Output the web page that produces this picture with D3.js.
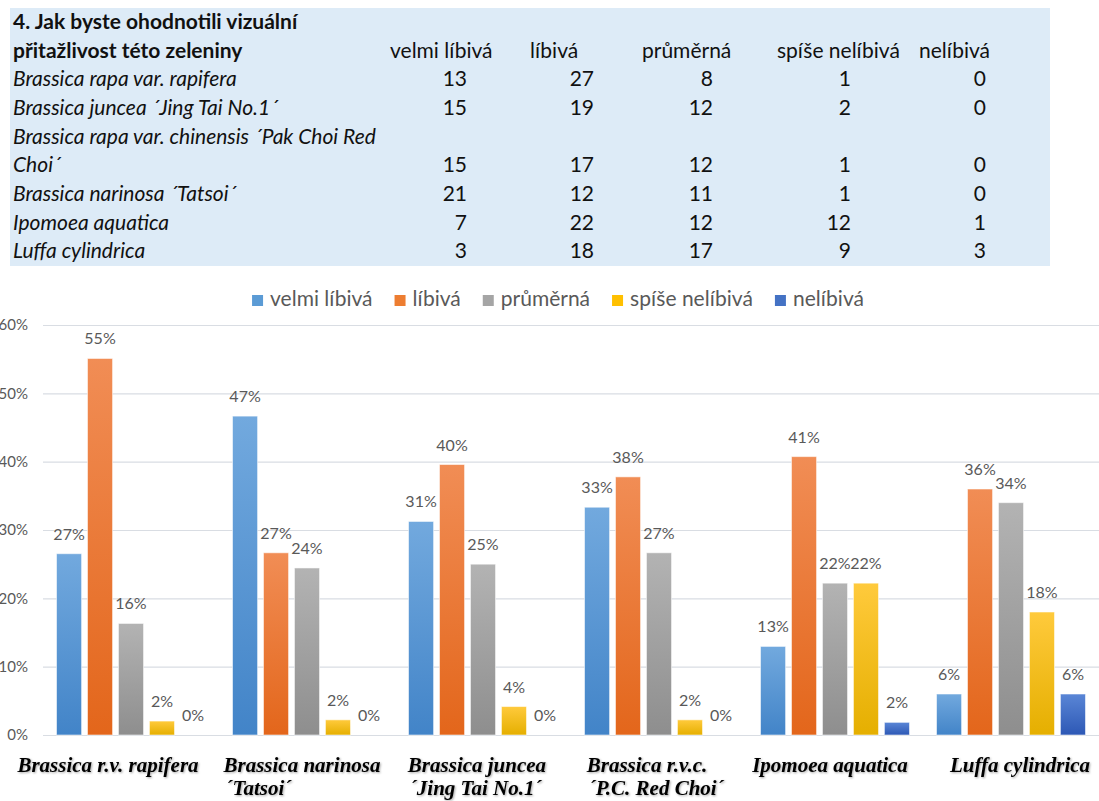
<!DOCTYPE html>
<html>
<head>
<meta charset="utf-8">
<script src="https://cdn.jsdelivr.net/npm/d3@7"></script>
<style>
body { margin: 0; background: #fff; }
svg { display: block; }
.tbl { font-family: Lato, "Open Sans", sans-serif; font-size: 21px; fill: #111; }
.cat { font-family: "Liberation Serif", "Times New Roman", serif; font-weight: bold; font-style: italic; font-size: 21px; fill: #000; }
</style>
</head>
<body>
<script>
// survey answers (table columns / chart series)
const responses = ["velmi líbivá", "líbivá", "průměrná", "spíše nelíbivá", "nelíbivá"];

// table rows, in table order (long name wraps on two lines)
const tableTitle = ["4. Jak byste ohodnotili vizuální", "přitažlivost této zeleniny"];
const plants = [
    ["Brassica rapa var. rapifera"],
    ["Brassica juncea ´Jing Tai No.1´"],
    ["Brassica rapa var. chinensis ´Pak Choi Red", "Choi´"],
    ["Brassica narinosa ´Tatsoi´"],
    ["Ipomoea aquatica"],
    ["Luffa cylindrica"]
];

// counts per answer, same order as plants
const velmiLibiva   = [13, 15, 15, 21, 7, 3];
const libiva        = [27, 19, 17, 12, 22, 18];
const prumerna      = [8, 12, 12, 11, 12, 17];
const spiseNelibiva = [1, 2, 1, 1, 12, 9];
const nelibiva      = [0, 0, 0, 0, 1, 3];
const counts = [velmiLibiva, libiva, prumerna, spiseNelibiva, nelibiva];

// chart shows the plants in another order, with short names
const chartOrder = [0, 3, 1, 2, 4, 5];
const chartLabels = [
    ["Brassica r.v. rapifera"],
    ["Brassica narinosa", "´Tatsoi´"],
    ["Brassica juncea", "´Jing Tai No.1´"],
    ["Brassica r.v.c.", "´P.C. Red Choi´"],
    ["Ipomoea aquatica"],
    ["Luffa cylindrica"]
];
const yTicks = [0, 0.1, 0.2, 0.3, 0.4, 0.5, 0.6];

// bar gradients, top -> bottom
const seriesColors = [
    ["#72a9de", "#4284c8"],
    ["#f18d55", "#e3661b"],
    ["#b3b3b3", "#8e8e8e"],
    ["#ffca3c", "#e5af00"],
    ["#5a86d6", "#2d58b5"]
];
const legendColors = ["#5b9bd5", "#ed7d31", "#a5a5a5", "#ffc000", "#4472c4"];

const W = 1099, H = 801;
const svg = d3.select("body").append("svg")
    .attr("width", W)
    .attr("height", H);

const defs = svg.append("defs");
seriesColors.forEach((c, i) => {
    let g = defs.append("linearGradient")
        .attr("id", "grad" + i)
        .attr("x1", 0).attr("y1", 0).attr("x2", 0).attr("y2", 1);
    g.append("stop").attr("offset", "0%").attr("stop-color", c[0]);
    g.append("stop").attr("offset", "100%").attr("stop-color", c[1]);
});
let shadow = defs.append("filter").attr("id", "shadow")
    .attr("x", "-5%").attr("y", "-20%").attr("width", "115%").attr("height", "150%");
shadow.append("feDropShadow")
    .attr("dx", 1).attr("dy", 1)
    .attr("stdDeviation", 0.8)
    .attr("flood-color", "#000")
    .attr("flood-opacity", 0.35);

// ---------- table ----------
const tbl = { x0: 10, x1: 1050, y0: 8, y1: 266, textX: 13, firstBase: 29, lineH: 28.65 };
const colHeadX = [390, 530, 642, 777, 919];
const colNumX = [467, 594, 713, 851, 986];

svg.append("rect")
    .attr("x", tbl.x0)
    .attr("y", tbl.y0)
    .attr("width", tbl.x1 - tbl.x0)
    .attr("height", tbl.y1 - tbl.y0)
    .attr("fill", "#ddebf7");

let line = 0;
tableTitle.forEach(t => {
    svg.append("text").attr("class", "tbl")
        .attr("x", tbl.textX)
        .attr("y", tbl.firstBase + line * tbl.lineH)
        .style("font-weight", "bold")
        .text(t);
    line++;
});
responses.forEach((r, j) => {
    svg.append("text").attr("class", "tbl")
        .attr("x", colHeadX[j])
        .attr("y", tbl.firstBase + (line - 1) * tbl.lineH)
        .text(r);
});

plants.forEach((p, i) => {
    p.forEach(t => {
        svg.append("text").attr("class", "tbl")
            .attr("x", tbl.textX)
            .attr("y", tbl.firstBase + line * tbl.lineH)
            .style("font-style", "italic")
            .text(t);
        line++;
    });
    counts.forEach((s, j) => {
        svg.append("text").attr("class", "tbl")
            .attr("x", colNumX[j])
            .attr("y", tbl.firstBase + (line - 1) * tbl.lineH)
            .attr("text-anchor", "end")
            .text(s[i]);
    });
});

// ---------- chart ----------
const plot = { left: 43, right: 1099, top: 325, bottom: 735 };

const x0 = d3.scaleBand()
    .domain(d3.range(chartOrder.length))
    .range([plot.left, plot.right])
    .paddingInner(0.12)
    .paddingOuter(0.06);

const x1 = d3.scaleBand()
    .domain(d3.range(responses.length))
    .range([0, x0.bandwidth()])
    .paddingInner(0.19)
    .paddingOuter(0.095);

const y = d3.scaleLinear()
    .domain([0, 0.6])
    .range([plot.bottom, plot.top]);

const yAxis = d3.axisLeft(y)
    .tickValues(yTicks)
    .tickSize(-(plot.right - plot.left))
    .tickPadding(15)
    .tickFormat(d3.format(".0%"));

let gy = svg.append("g")
    .attr("transform", "translate(" + plot.left + ",0)")
    .call(yAxis);
gy.select(".domain").remove();
gy.selectAll(".tick line").attr("stroke", "#d9dde3").attr("stroke-width", 1.2);
gy.selectAll(".tick text")
    .attr("fill", "#595959")
    .style("font-family", "Lato, sans-serif")
    .style("font-size", "15px");

// shares per plant
const groups = chartOrder.map(pi => {
    let total = d3.sum(counts, s => s[pi]);
    return counts.map((s, j) => ({ series: j, value: s[pi] / total }));
});

let gGroups = svg.selectAll(".grp")
    .data(groups)
    .enter().append("g")
    .attr("class", "grp")
    .attr("transform", (d, i) => "translate(" + x0(i) + ",0)");

gGroups.selectAll("rect")
    .data(d => d)
    .enter().append("rect")
    .attr("x", d => x1(d.series))
    .attr("y", d => y(d.value))
    .attr("width", x1.bandwidth())
    .attr("height", d => y(0) - y(d.value))
    .attr("fill", d => "url(#grad" + d.series + ")")
    .attr("stroke", "rgba(255,255,255,0.55)")
    .attr("stroke-width", 1);

gGroups.selectAll(".lbl")
    .data(d => d)
    .enter().append("text")
    .attr("class", "lbl")
    .attr("x", d => x1(d.series) + x1.bandwidth() / 2)
    .attr("y", d => y(d.value) - 14)
    .attr("text-anchor", "middle")
    .attr("fill", "#595959")
    .style("font-family", "Lato, sans-serif")
    .style("font-size", "16px")
    .text(d => d3.format(".0%")(d.value));

// category labels sit in hand-placed text boxes in the original,
// so each one gets a small nudge off its band centre
const labelNudge = [-23, -5, -6, -12, -5, 9];
chartLabels.forEach((lines, i) => {
    let cx = x0(i) + x0.bandwidth() / 2 + labelNudge[i];
    let first = svg.append("text").attr("class", "cat")
        .attr("x", cx)
        .attr("y", 772)
        .attr("text-anchor", "middle")
        .attr("filter", "url(#shadow)")
        .text(lines[0]);
    let startX = cx - first.node().getComputedTextLength() / 2;
    if (lines[1]) {
        svg.append("text").attr("class", "cat")
            .attr("x", startX + 2)
            .attr("y", 795)
            .attr("filter", "url(#shadow)")
            .text(lines[1]);
    }
});

// ---------- legend ----------
const legend = svg.append("g");
let lx = 0;
responses.forEach((r, j) => {
    let item = legend.append("g").attr("transform", "translate(" + lx + ",0)");
    item.append("rect")
        .attr("x", 0).attr("y", -11)
        .attr("width", 11).attr("height", 11)
        .attr("fill", legendColors[j]);
    let t = item.append("text")
        .attr("x", 18)
        .attr("y", 0)
        .attr("fill", "#595959")
        .style("font-family", "Lato, sans-serif")
        .style("font-size", "21px")
        .text(r);
    lx += 18 + t.node().getComputedTextLength() + 22;
});
lx -= 22;
legend.attr("transform", "translate(" + (558 - lx / 2) + ",306)");
</script>
</body>
</html>
